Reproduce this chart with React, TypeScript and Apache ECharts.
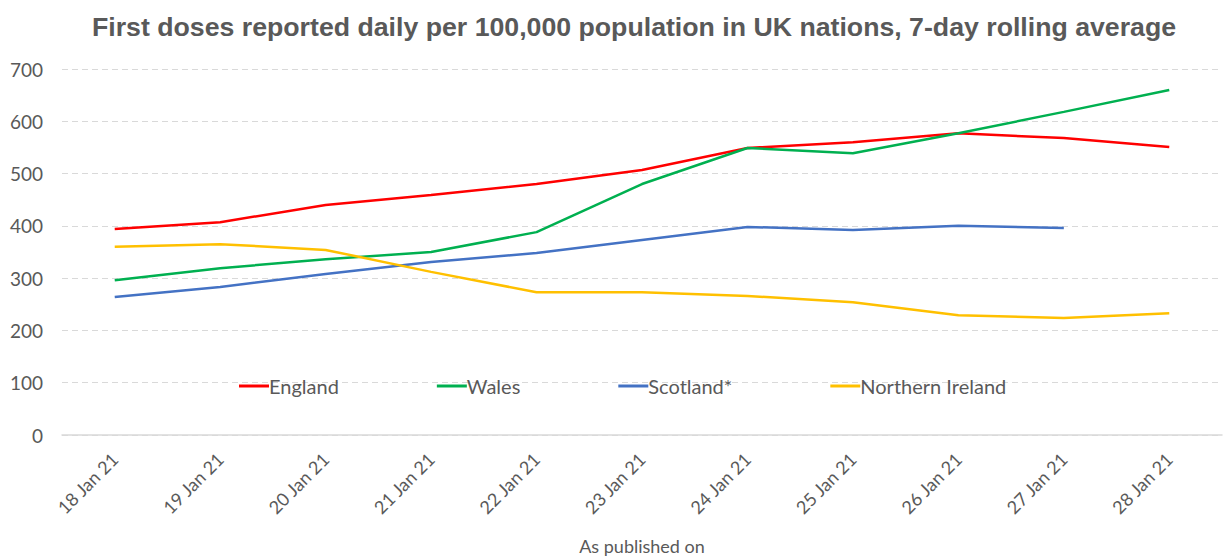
import React, { useEffect, useRef } from "react";
import * as echarts from "echarts";

const categories = ["18 Jan 21", "19 Jan 21", "20 Jan 21", "21 Jan 21", "22 Jan 21", "23 Jan 21", "24 Jan 21", "25 Jan 21", "26 Jan 21", "27 Jan 21", "28 Jan 21"];
const england = [394, 407, 440, 459, 480, 507, 549, 560, 577, 568, 551];
const wales = [296, 319, 336, 350, 388, 480, 549, 539, 577, 618, 660];
const scotland = [264, 283, 308, 331, 348, 373, 398, 392, 400, 396, null];
const northernIreland = [360, 365, 354, 312, 273, 273, 266, 254, 229, 224, 233];

const FONT = "Lato, 'Open Sans', sans-serif";
const GREY = "#595959";

export default function App() {
  const ref = useRef<HTMLDivElement>(null);
  useEffect(() => {
    const chart = echarts.init(ref.current!, undefined, { renderer: "svg" });
    const mk = (name: string, data: (number | null)[], color: string) => ({
      name,
      type: "line",
      data,
      symbol: "none",
      lineStyle: { color, width: 2.5 },
      itemStyle: { color },
      connectNulls: false,
    });
    chart.setOption({
      animation: false,
      backgroundColor: "#ffffff",
      title: {
        text: "First doses reported daily per 100,000 population in UK nations, 7-day rolling average",
        left: 87,
        top: 8,
        textStyle: { fontFamily: "'Liberation Sans', Arial, sans-serif", fontSize: 26.7, fontWeight: "bold", color: GREY },
      },
      legend: {
        left: 234,
        top: 371,
        itemGap: 98,
        itemWidth: 30,
        itemHeight: 3,
        icon: "rect",
        textStyle: { fontFamily: FONT, fontSize: 20, color: GREY, padding: [0, 0, 0, -5] },
        data: ["England", "Wales", "Scotland*", "Northern Ireland"],
      },
      grid: { left: 62, right: 2, top: 69, bottom: 113, containLabel: false },
      xAxis: {
        type: "category",
        data: categories,
        boundaryGap: true,
        name: "As published on",
        nameLocation: "middle",
        nameGap: 102,
        nameTextStyle: { fontFamily: FONT, fontSize: 18, color: GREY },
        axisLine: { lineStyle: { color: "#D9D9D9", width: 1.5 } },
        axisTick: { show: false },
        axisLabel: { rotate: 45, fontFamily: FONT, fontSize: 18, color: GREY, margin: 21, interval: 0 },
      },
      yAxis: {
        type: "value",
        min: 0,
        max: 700,
        interval: 100,
        axisLine: { show: false },
        axisTick: { show: false },
        axisLabel: { fontFamily: FONT, fontSize: 19, color: GREY, margin: 19 },
        splitLine: { lineStyle: { color: "#D9D9D9", type: [6, 4], width: 1 } },
      },
      series: [
        mk("England", england, "#FF0000"),
        mk("Wales", wales, "#00B050"),
        mk("Scotland*", scotland, "#4472C4"),
        mk("Northern Ireland", northernIreland, "#FFC000"),
      ],
    });
    return () => chart.dispose();
  }, []);
  return <div ref={ref} style={{ position: "fixed", left: 0, top: 0, width: 1224, height: 560 }} />;
}
